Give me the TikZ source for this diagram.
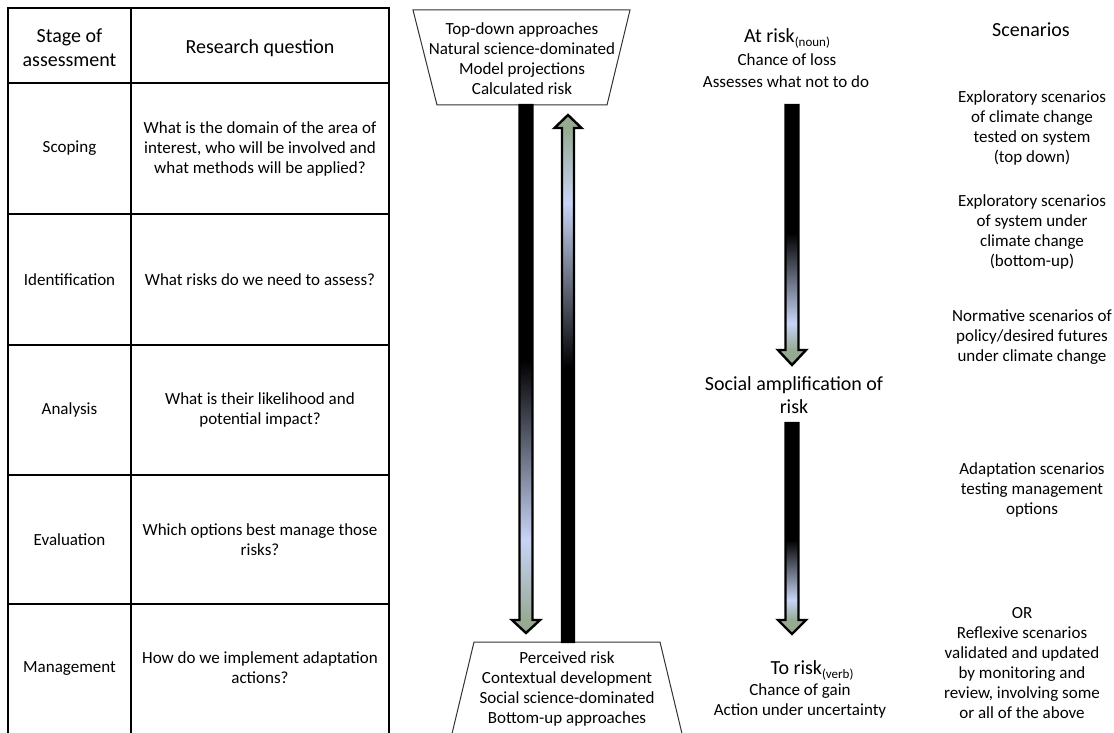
\documentclass[tikz,border=0pt]{standalone}
\usepackage{fontspec}
\setmainfont{Carlito}
\definecolor{ablue}{RGB}{200,212,246}
\definecolor{agreen}{RGB}{150,170,146}
\begin{document}
\begin{tikzpicture}[x=1pt,y=-1pt,
  body/.style={align=center,inner sep=0pt,font=\fontsize{17}{20}\selectfont},
  head/.style={align=center,inner sep=0pt,font=\fontsize{20}{24}\selectfont},
  tbl/.style={line width=2.2pt},
  trap/.style={draw=black!80,line width=1pt,line join=miter},
  aout/.style={draw=black,line width=2.4pt,line join=miter}]
\useasboundingbox (0,0) rectangle (1114,733);
\fill[white] (0,0) rectangle (1114,733);

% ---------- table ----------
\draw[tbl] (8,745) -- (8,8) -- (389,8) -- (389,745);
\draw[tbl] (131,8) -- (131,745);
\foreach \yy in {83,214,345,475,604} \draw[tbl] (8,\yy) -- (389,\yy);

\node[head] (hstage) at (69.5,48) {Stage of\\assessment};
\node[head] (hquest) at (260,48) {Research question};

\node[body] (s1) at (69.5,148.5) {Scoping};
\node[body] (s2) at (69.5,279.5) {Identification};
\node[body] (s3) at (69.5,410) {Analysis};
\node[body] (s4) at (69.5,539.5) {Evaluation};
\node[body] (s5) at (69.5,669) {Management};

\node[body] (q1) at (260,148.5) {What is the domain of the area of\\interest, who will be involved and\\what methods will be applied?};
\node[body] (q2) at (260,279.5) {What risks do we need to assess?};
\node[body] (q3) at (260,410) {What is their likelihood and\\potential impact?};
\node[body] (q4) at (260,539.5) {Which options best manage those\\risks?};
\node[body] (q5) at (260,668) {How do we implement adaptation\\actions?};

% ---------- trapezoids ----------
\draw[trap] (413,10) -- (630,10) -- (607,105) -- (437,105) -- cycle;
\node[body] (toptext) at (522,59) {Top-down approaches\\Natural science-dominated\\Model projections\\Calculated risk};
\draw[trap] (474,642) -- (660,642) -- (684,742) -- (450,742) -- cycle;
\node[body] (bottext) at (567,689) {Perceived risk\\Contextual development\\Social science-dominated\\Bottom-up approaches};

% ---------- left down arrow ----------
\fill[black] (519.5,105) rectangle (532.5,360);
\shade[top color=black,bottom color=ablue] (519.5,360) rectangle (532.5,540);
\shade[top color=ablue,bottom color=agreen] (519.5,540) rectangle (532.5,620);
\fill[agreen] (512,620) -- (526,633) -- (540,620) -- cycle;
\draw[aout] (519.5,105) -- (519.5,620) -- (512,620) -- (526,633) -- (540,620) -- (532.5,620) -- (532.5,105) -- cycle;

% ---------- left up arrow ----------
\fill[black] (562,367) rectangle (574,642);
\shade[top color=ablue,bottom color=black] (562,203) rectangle (574,367);
\shade[top color=agreen,bottom color=ablue] (562,128) rectangle (574,203);
\fill[agreen] (554.5,128) -- (568,115) -- (581.5,128) -- cycle;
\draw[aout] (562,642) -- (562,128) -- (554.5,128) -- (568,115) -- (581.5,128) -- (574,128) -- (574,642) -- cycle;

% ---------- right column ----------
\node[head] (atrisk) at (787,38) {At risk{\fontsize{13}{13}\selectfont\raisebox{-4pt}{(noun)}}};
\node[body] (chloss) at (787,60) {Chance of loss};
\node[body] (assess) at (786,82) {Assesses what not to do};

\fill[black] (785.5,105) rectangle (798.5,233);
\shade[top color=black,bottom color=ablue] (785.5,233) rectangle (798.5,323);
\shade[top color=ablue,bottom color=agreen] (785.5,323) rectangle (798.5,350);
\fill[agreen] (778,350) -- (792,365) -- (806,350) -- cycle;
\draw[aout] (785.5,105) -- (785.5,350) -- (778,350) -- (792,365) -- (806,350) -- (798.5,350) -- (798.5,105) -- cycle;

\node[head,font=\fontsize{20}{23}\selectfont] (social) at (794,395) {Social amplification of\\risk};

\fill[black] (785.5,423) rectangle (798.5,540);
\shade[top color=black,bottom color=ablue] (785.5,540) rectangle (798.5,600);
\shade[top color=ablue,bottom color=agreen] (785.5,600) rectangle (798.5,620);
\fill[agreen] (778,620) -- (792,634) -- (806,620) -- cycle;
\draw[aout] (785.5,423) -- (785.5,620) -- (778,620) -- (792,634) -- (806,620) -- (798.5,620) -- (798.5,423) -- cycle;

\node[head] (torisk) at (812,670) {To risk{\fontsize{13}{13}\selectfont\raisebox{-4pt}{(verb)}}};
\node[body] (chgain) at (800,691) {Chance of gain};
\node[body] (action) at (800,711) {Action under uncertainty};

% ---------- scenarios ----------
\node[head] (scen) at (1031,30) {Scenarios};
\node[body] (sc1) at (1032,128) {Exploratory scenarios\\of climate change\\tested on system\\(top down)};
\node[body] (sc2) at (1032,232) {Exploratory scenarios\\of system under\\climate change\\(bottom-up)};
\node[body] (sc3) at (1032,337) {Normative scenarios of\\policy/desired futures\\under climate change};
\node[body] (sc4) at (1032,490) {Adaptation scenarios\\testing management\\options};
\node[body] (sc5) at (1022,663) {OR\\Reflexive scenarios\\validated and updated\\by monitoring and\\review, involving some\\or all of the above};
\end{tikzpicture}
\end{document}
